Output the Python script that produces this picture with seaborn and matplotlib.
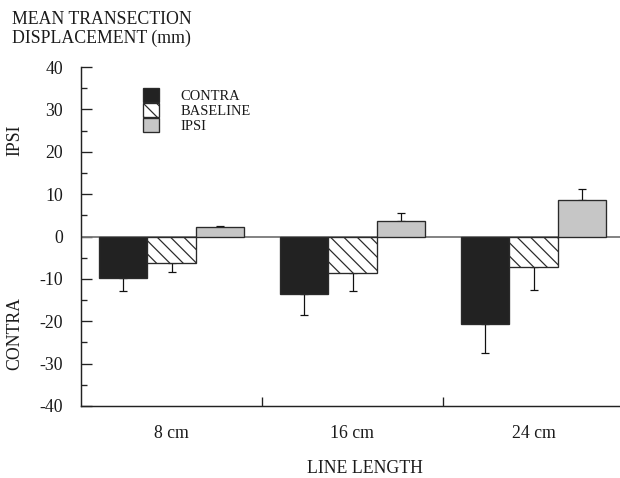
import matplotlib
matplotlib.use("Agg")
import matplotlib.pyplot as plt
import seaborn as sns
import pandas as pd
from matplotlib.ticker import FixedLocator, MultipleLocator
from matplotlib.patches import Patch

# ---- data ----
categories = ["8 cm", "16 cm", "24 cm"]
conditions = ["CONTRA", "BASELINE", "IPSI"]
contra_mean = [-9.7, -13.6, -20.6]
contra_err = [3.2, 4.9, 6.8]
baseline_mean = [-6.3, -8.7, -7.3]
baseline_err = [2.0, 4.2, 5.3]
ipsi_mean = [2.2, 3.6, 8.6]
ipsi_err = [0.3, 1.9, 2.5]
y_ticks = [-40, -30, -20, -10, 0, 10, 20, 30, 40]

means = {"CONTRA": contra_mean, "BASELINE": baseline_mean, "IPSI": ipsi_mean}
errs = {"CONTRA": contra_err, "BASELINE": baseline_err, "IPSI": ipsi_err}
rows = []
for c in conditions:
    for cat, m in zip(categories, means[c]):
        rows.append({"length": cat, "condition": c, "value": m})
df = pd.DataFrame(rows)

sns.set_style("ticks")
plt.rcParams["font.family"] = ["Liberation Serif", "DejaVu Serif"]
plt.rcParams["axes.unicode_minus"] = False
plt.rcParams["hatch.linewidth"] = 1.1

fig = plt.figure(figsize=(7.75, 5.975), dpi=80)
ax = fig.add_axes([81 / 620, 72 / 478, 543 / 620, 339 / 478])

colors = {"CONTRA": "#222222", "BASELINE": "#ffffff", "IPSI": "#c6c6c6"}
edge = "#2a2a2a"
hatch = "\\\\"
txt = "#1a1a1a"
sns.barplot(data=df, x="length", y="value", hue="condition", order=categories,
            hue_order=conditions, palette=colors, width=0.8, saturation=1,
            edgecolor=edge, linewidth=1.2, errorbar=None, legend=False,
            ax=ax, zorder=3)

for cont, c in zip(ax.containers, conditions):
    if c == "BASELINE":
        for p in cont:
            p.set_hatch(hatch)
    xs, ys, lo, up = [], [], [], []
    for p, e in zip(cont, errs[c]):
        xs.append(p.get_x() + p.get_width() / 2)
        v = p.get_y() + p.get_height()
        ys.append(v)
        if v < 0:
            lo.append(e); up.append(0)
        else:
            lo.append(0); up.append(e)
    ax.errorbar(xs, ys, yerr=[lo, up], fmt="none", ecolor="#111111",
                elinewidth=1.1, capsize=3.2, capthick=1.1, zorder=2)

ax.axhline(0, color="#777777", lw=1.6, zorder=2.5)

ax.set_xlim(-0.5, 2.5)
ax.set_ylim(-40, 40)
ax.yaxis.set_major_locator(FixedLocator(y_ticks))
ax.yaxis.set_minor_locator(MultipleLocator(5))
ax.set_xticks([0.5, 1.5], minor=True)

ax.tick_params(axis="y", which="major", direction="in", length=9.5, width=1.2,
               pad=16, labelsize=16, color="#222222", labelcolor=txt)
ax.tick_params(axis="y", which="minor", direction="in", length=5, width=1.2,
               color="#222222")
ax.tick_params(axis="x", which="major", length=0, pad=17.5, labelsize=16,
               labelcolor=txt)
ax.tick_params(axis="x", which="minor", direction="in", length=8, width=1.2,
               color="#222222")

sns.despine(ax=ax)
for s in ["left", "bottom"]:
    ax.spines[s].set_linewidth(1.3)
    ax.spines[s].set_color("#222222")

ax.set_ylabel("")
ax.set_xlabel("LINE LENGTH", fontsize=16, color=txt, va="baseline")
ax.xaxis.set_label_coords((365 - 81) / 543, (406 - 473) / 339)

ax.text(-0.1215, 0.785, "IPSI", transform=ax.transAxes, rotation=90,
        ha="center", va="center", fontsize=16, color=txt)
ax.text(-0.1215, 0.215, "CONTRA", transform=ax.transAxes, rotation=90,
        ha="center", va="center", fontsize=16, color=txt)

fig.text(12 / 620, 1 - 24 / 478, "MEAN TRANSECTION", fontsize=16,
         va="baseline", ha="left", color=txt)
fig.text(12 / 620, 1 - 43 / 478, "DISPLACEMENT (mm)", fontsize=16,
         va="baseline", ha="left", color=txt)

handles = [Patch(facecolor=colors[c], edgecolor=edge, linewidth=1.2,
                 hatch=hatch if c == "BASELINE" else None) for c in conditions]
fig.legend(handles, conditions, loc="upper left",
           bbox_to_anchor=(143 / 620, 1 - 88 / 478), frameon=False,
           fontsize=13, handlelength=1.1, handleheight=1.15, labelspacing=0,
           handletextpad=1.5, borderpad=0, borderaxespad=0,
           labelcolor=txt)

fig.savefig("out.png", dpi=80)
